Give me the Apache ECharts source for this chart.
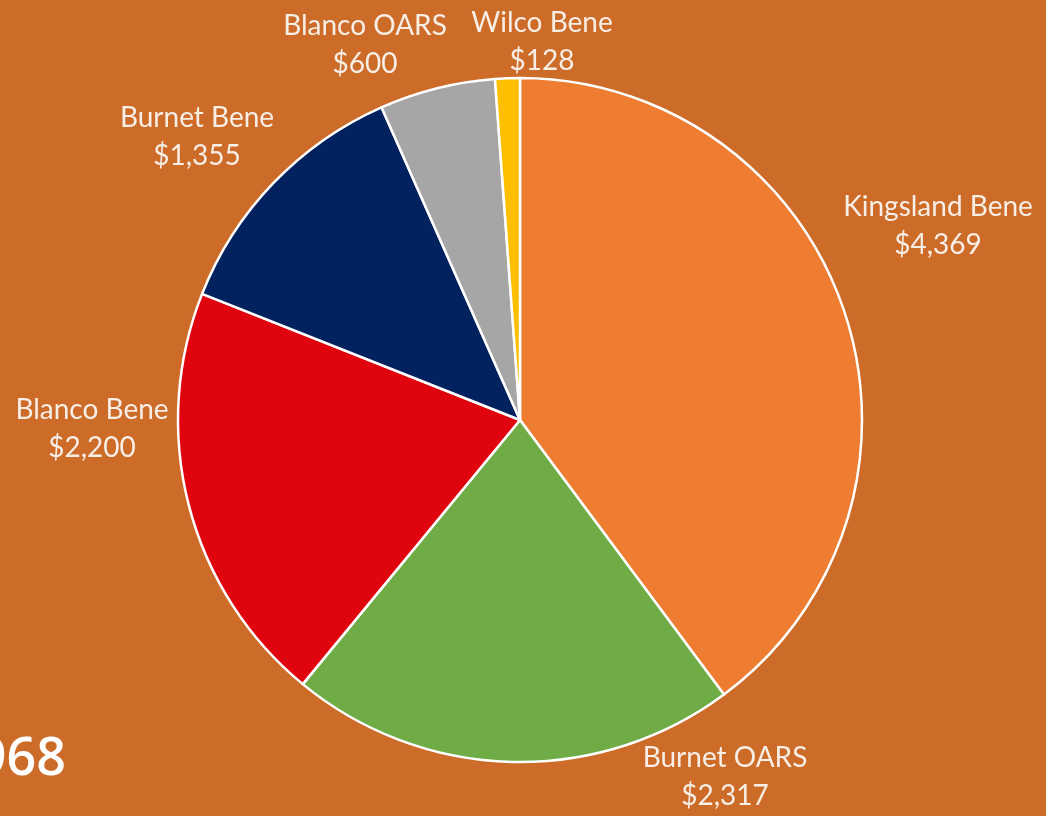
<!DOCTYPE html>
<html>
<head>
<meta charset="utf-8">
<script src="https://cdn.jsdelivr.net/npm/echarts@6/dist/echarts.min.js"></script>
<style>
  html, body { margin: 0; padding: 0; background: #CD6B29; }
  #chart { width: 1046px; height: 816px; }
</style>
</head>
<body>
<div id="chart"></div>
<script>
// Funding by program, clockwise from 12 o'clock
const categories = ['Kingsland Bene', 'Burnet OARS', 'Blanco Bene', 'Burnet Bene', 'Blanco OARS', 'Wilco Bene'];
const amounts = [4369, 2317, 2200, 1355, 600, 128];
const sliceColors = ['#EE7D31', '#6FAC46', '#E0040F', '#02215F', '#A6A6A6', '#FDBF00'];
const totalText = '968';

// Label anchor points (centre of each two-line label)
const labelAnchors = [
  [938, 226], [725, 777], [92, 429], [197, 137], [365, 45], [542, 42]
];

const fmt = v => '$' + v.toLocaleString('en-US');

const chart = echarts.init(document.getElementById('chart'), null, { renderer: 'canvas' });
chart.setOption({
  backgroundColor: '#CD6B29',
  animation: false,
  graphic: [{
    type: 'text',
    right: 1046 - 66,
    top: 734,
    style: {
      text: totalText,
      fill: '#FFFFFF',
      font: '600 52px "Open Sans", Lato, sans-serif',
      textAlign: 'right'
    }
  }],
  series: [{
    type: 'pie',
    center: [520, 420],
    radius: [0, 342],
    startAngle: 90,
    clockwise: true,
    silent: true,
    itemStyle: { borderColor: '#FFFFFF', borderWidth: 2.5 },
    label: {
      show: true,
      position: 'outside',
      color: '#F7EEE6',
      fontFamily: 'Lato, "Open Sans", sans-serif',
      fontSize: 28,
      lineHeight: 38,
      align: 'center',
      overflow: 'none',
      width: 300,
      formatter: p => p.name + '\n' + fmt(p.value)
    },
    labelLine: { show: false },
    labelLayout: p => ({
      x: labelAnchors[p.dataIndex][0],
      y: labelAnchors[p.dataIndex][1],
      align: 'center',
      verticalAlign: 'middle'
    }),
    data: categories.map((name, i) => ({
      name,
      value: amounts[i],
      itemStyle: { color: sliceColors[i] }
    }))
  }]
});
</script>
</body>
</html>
